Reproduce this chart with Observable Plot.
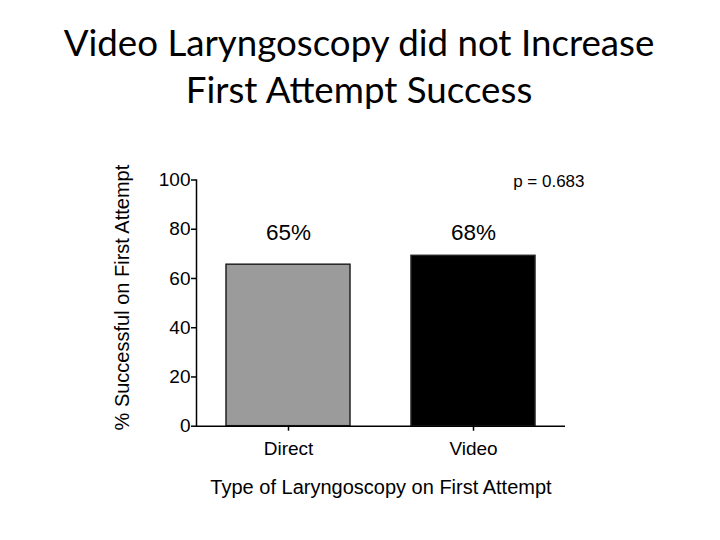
<!DOCTYPE html>
<html><head><meta charset="utf-8">
<script src="https://cdn.jsdelivr.net/npm/d3@7"></script>
<script src="https://cdn.jsdelivr.net/npm/@observablehq/plot@0.6"></script>
<style>body{margin:0;background:#fff;} svg{display:block;}</style>
</head><body>
<svg id="title" width="720" height="130" xmlns="http://www.w3.org/2000/svg"></svg>
<div id="chart"></div>
<script>
const categories = ["Direct", "Video"];
const values = [65.6, 69.2];
const valueLabels = ["65%", "68%"];
const fills = ["#9b9b9b", "#000000"];
const yTicks = [0, 20, 40, 60, 80, 100];
const titleLines = ["Video Laryngoscopy did not Increase", "First Attempt Success"];
const yLabel = "% Successful on First Attempt";
const xLabel = "Type of Laryngoscopy on First Attempt";
const pText = "p = 0.683";

// Title
const tsvg = d3.select("#title");
const baselines = [56, 103];
const tt = tsvg.selectAll("text").data(titleLines).join("text")
  .attr("x", 359).attr("y", (d, i) => baselines[i])
  .attr("text-anchor", "middle")
  .attr("font-family", "Lato, 'Open Sans', sans-serif")
  .attr("font-size", 40).attr("fill", "#000")
  .text(d => d);
const w0 = tt.nodes()[0].getComputedTextLength();
tt.attr("font-size", 40 * 591 / w0);

const data = categories.map((c, i) => ({category: c, value: values[i], label: valueLabels[i], fill: fills[i]}));

const plot = Plot.plot({
  width: 720, height: 410,
  marginLeft: 196, marginRight: 155, marginTop: 49.5, marginBottom: 114.3,
  style: {fontFamily: "'Liberation Sans', Arial, sans-serif", fontSize: "19px", color: "#000", background: "#fff"},
  x: {domain: categories, paddingInner: 0.33, paddingOuter: 0.16, label: null},
  y: {domain: [0, 100], label: null},
  color: {type: "identity"},
  marks: [
    Plot.barY(data, {x: "category", y: "value", fill: "fill", stroke: "#222", strokeWidth: 1.5}),
    Plot.ruleY([0], {stroke: "#000", strokeWidth: 1.5}),
    Plot.frame({anchor: "left", stroke: "#000", strokeWidth: 1.5}),
    Plot.axisY({ticks: yTicks, tickSize: 5, tickPadding: 1, fontSize: 19, strokeWidth: 1.5, label: null}),
    Plot.axisX({tickSize: 5, tickPadding: 10, fontSize: 19, strokeWidth: 1.5, label: null}),
    Plot.text(data, {x: "category", y: () => 75.5, text: "label", fontSize: 22.5, lineAnchor: "bottom"}),
    Plot.text([pText], {frameAnchor: "top-right", text: d => d, dx: 19, dy: 7, fontSize: 17, lineAnchor: "bottom", textAnchor: "end"}),
    Plot.text([yLabel], {frameAnchor: "left", text: d => d, rotate: -90, dx: -68, dy: -5.5, fontSize: 20, lineAnchor: "bottom", textAnchor: "middle"}),
    Plot.text([xLabel], {frameAnchor: "bottom", text: d => d, dy: 67.3, fontSize: 20, lineAnchor: "bottom", textAnchor: "middle"})
  ]
});
document.getElementById("chart").appendChild(plot);
</script>
</body></html>
